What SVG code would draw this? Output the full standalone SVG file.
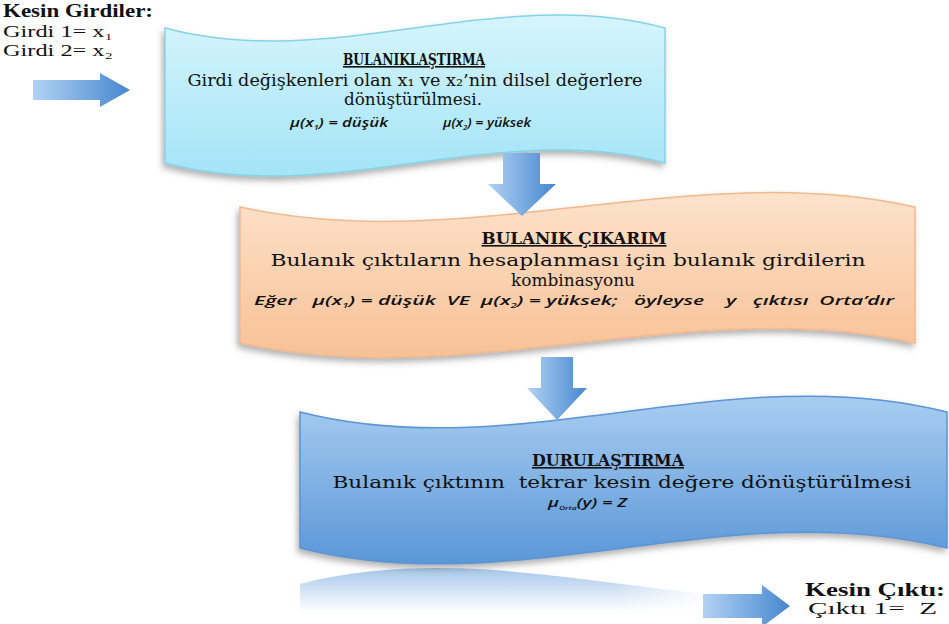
<svg xmlns="http://www.w3.org/2000/svg" width="949" height="624" viewBox="0 0 949 624">
<style>
.hdr{font-family:"DejaVu Serif","Liberation Serif",serif;font-weight:bold;font-size:16px;text-decoration:underline;fill:#111}
.body{font-family:"DejaVu Serif","Liberation Serif",serif;font-size:17.5px;fill:#111}
.b1{font-size:16.5px}
.frm{font-family:"Open Sans","Liberation Sans",sans-serif;font-style:italic;font-weight:600;font-size:13px;fill:#111}
.lbl{font-family:"Liberation Serif","Times New Roman",serif;font-size:17px;fill:#111}
.lblb{font-family:"Liberation Serif","Times New Roman",serif;font-size:18px;font-weight:bold;fill:#111}
.arrow{fill:url(#gArrow)}
</style>
<defs>
<linearGradient id="g1" x1="0" y1="0" x2="0" y2="1"><stop offset="0" stop-color="#d6f5fd"/><stop offset="1" stop-color="#a3e4f6"/></linearGradient>
<linearGradient id="g2" x1="0" y1="0" x2="0" y2="1"><stop offset="0" stop-color="#fde2cb"/><stop offset="1" stop-color="#f8c196"/></linearGradient>
<linearGradient id="g3" x1="0" y1="0" x2="0" y2="1"><stop offset="0" stop-color="#a9cdf1"/><stop offset="1" stop-color="#5a97d7"/></linearGradient>
<linearGradient id="gArrow" x1="0" y1="0" x2="1" y2="0"><stop offset="0" stop-color="#b2d2f4"/><stop offset="1" stop-color="#4687cf"/></linearGradient>
<linearGradient id="gRefl" gradientUnits="userSpaceOnUse" x1="0" y1="566" x2="0" y2="612"><stop offset="0" stop-color="#6fa5dd" stop-opacity="0.65"/><stop offset="1" stop-color="#6fa5dd" stop-opacity="0"/></linearGradient>
<linearGradient id="gFadeX" gradientUnits="userSpaceOnUse" x1="300" y1="0" x2="720" y2="0"><stop offset="0" stop-color="#fff"/><stop offset="0.75" stop-color="#fff"/><stop offset="1" stop-color="#000"/></linearGradient>
<mask id="mRefl"><rect x="280" y="560" width="669" height="64" fill="url(#gFadeX)"/></mask>
<filter id="sh" x="-5%" y="-10%" width="110%" height="125%"><feDropShadow dx="-2" dy="4" stdDeviation="3" flood-color="#555" flood-opacity="0.45"/></filter>
</defs>

<g id="input-label">
<text class="lblb" x="3" y="17" textLength="150" lengthAdjust="spacingAndGlyphs">Kesin Girdiler:</text>
<text class="lbl" x="3" y="37" textLength="110" lengthAdjust="spacingAndGlyphs">Girdi 1= x₁</text>
<text class="lbl" x="3" y="56" textLength="110" lengthAdjust="spacingAndGlyphs">Girdi 2= x₂</text>
</g>

<g id="bulaniklastirma">
<path d="M165,28 C332,73 498,-17 665,28 L665,163 C498,118 332,208 165,163 Z" fill="url(#g1)" stroke="#86d3e8" stroke-width="1.5" filter="url(#sh)"/>
<text class="hdr" x="414" y="65" text-anchor="middle" textLength="142" lengthAdjust="spacingAndGlyphs">BULANIKLAŞTIRMA</text>
<text class="body b1" x="415" y="86" text-anchor="middle" textLength="455" lengthAdjust="spacingAndGlyphs">Girdi değişkenleri olan x₁ ve x₂’nin dilsel değerlere</text>
<text class="body b1" x="413" y="105" text-anchor="middle" textLength="138" lengthAdjust="spacingAndGlyphs">dönüştürülmesi.</text>
<text class="frm" x="290" y="127" textLength="98" lengthAdjust="spacingAndGlyphs">μ(x<tspan font-size="7" dy="3">1</tspan><tspan dy="-3">) = düşük</tspan></text>
<text class="frm" x="443" y="127" textLength="88" lengthAdjust="spacingAndGlyphs">μ(x<tspan font-size="7" dy="3">2</tspan><tspan dy="-3">) = yüksek</tspan></text>
</g>

<g id="bulanik-cikarim">
<path d="M240,207 C465,257 690,157 915,207 L915,343 C690,293 465,393 240,343 Z" fill="url(#g2)" stroke="#f2b98e" stroke-width="1.5" filter="url(#sh)"/>
<text class="hdr" x="574" y="244" text-anchor="middle" textLength="185" lengthAdjust="spacingAndGlyphs">BULANIK ÇIKARIM</text>
<text class="body" x="568" y="266" text-anchor="middle" textLength="595" lengthAdjust="spacingAndGlyphs">Bulanık çıktıların hesaplanması için bulanık girdilerin</text>
<text class="body" x="573" y="286" text-anchor="middle" textLength="124" lengthAdjust="spacingAndGlyphs">kombinasyonu</text>
<text class="frm" x="254" y="305" font-size="12.5" textLength="640" lengthAdjust="spacingAndGlyphs" xml:space="preserve">Eğer   μ(x<tspan font-size="7" dy="3">1</tspan><tspan dy="-3">) = düşük  VE  μ(x</tspan><tspan font-size="7" dy="3">2</tspan><tspan dy="-3">) = yüksek;   öyleyse    y   çıktısı  Orta’dır</tspan></text>
</g>

<g id="durulastirma">
<path d="M300,584 C516,529 731,639 947,584 L947,640 L300,640 Z" fill="url(#gRefl)" mask="url(#mRefl)"/>
<path d="M300,412 C516,467 731,357 947,412 L947,548 C731,493 516,603 300,548 Z" fill="url(#g3)" stroke="#5b95d3" stroke-width="1.5" filter="url(#sh)"/>
<text class="hdr" x="608" y="466" text-anchor="middle" textLength="152" lengthAdjust="spacingAndGlyphs">DURULAŞTIRMA</text>
<text class="body" x="622" y="488" text-anchor="middle" textLength="579" lengthAdjust="spacingAndGlyphs" xml:space="preserve">Bulanık çıktının  tekrar kesin değere dönüştürülmesi</text>
<text class="frm" x="548" y="507" font-size="14" font-weight="700" textLength="79" lengthAdjust="spacingAndGlyphs">μ<tspan font-size="6" dy="3">Orta</tspan><tspan dy="-3">(y) = Z</tspan></text>
</g>

<g id="output-label">
<text class="lblb" x="805" y="596" textLength="140" lengthAdjust="spacingAndGlyphs">Kesin Çıktı:</text>
<text class="lbl" x="808" y="614" textLength="129" lengthAdjust="spacingAndGlyphs" xml:space="preserve">Çıktı 1=  Z</text>
</g>

<g id="connectors">
<path class="arrow" d="M33,80 L100,80 L100,73 L130,90 L100,107 L100,100 L33,100 Z"/>
<path class="arrow" d="M503,153 L540,153 L540,184 L556,184 L522,216 L488,184 L503,184 Z"/>
<path class="arrow" d="M541,357 L573,357 L573,388 L587,388 L557,420 L527,388 L541,388 Z"/>
<path class="arrow" d="M703,594 L762,594 L762,585 L790,606 L762,627 L762,618 L703,618 Z"/>
</g>
</svg>
